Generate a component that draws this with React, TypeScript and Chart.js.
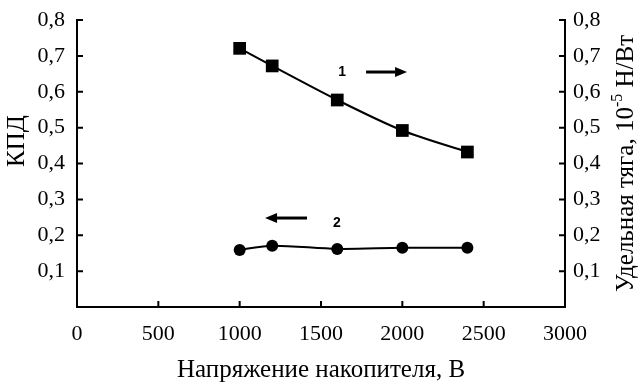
import React, { useEffect, useRef } from "react";
import { Chart, registerables } from "chart.js";

Chart.register(...registerables);

const voltages = [1000, 1200, 1600, 2000, 2400];
const thrust = [0.721, 0.672, 0.577, 0.492, 0.432];
const efficiency = [0.159, 0.171, 0.162, 0.165, 0.165];
const xTicks = [0, 500, 1000, 1500, 2000, 2500, 3000];
const yTicks = [0.1, 0.2, 0.3, 0.4, 0.5, 0.6, 0.7, 0.8];
// annotations: label, label x/y, arrow from x -> to x at y (data coords)
const annotLabels = ["1", "2"];
const annotLabelX = [1630, 1598];
const annotLabelY = [0.655, 0.234];
const arrowFromX = [1777, 1414];
const arrowToX = [2029, 1156];
const arrowY = [0.655, 0.248];

const SERIF = "'Liberation Serif', 'Times New Roman', serif";

const fmt = (v: number) => v.toFixed(1).replace(".", ",");

const decorPlugin = {
  id: "decor",
  afterDraw(chart: any) {
    const ctx = chart.ctx;
    const x = chart.scales.x;
    const y = chart.scales.y;
    const yR = chart.scales.yR;
    const ca = chart.chartArea;
    ctx.save();
    ctx.strokeStyle = "#000";
    ctx.lineWidth = 2;
    const tl = 6;
    ctx.beginPath();
    xTicks.forEach((t) => {
      if (t === 0 || t === 3000) return;
      const px = x.getPixelForValue(t);
      ctx.moveTo(px, ca.bottom);
      ctx.lineTo(px, ca.bottom - tl);
    });
    yTicks.forEach((t) => {
      const py = y.getPixelForValue(t);
      ctx.moveTo(ca.left, py);
      ctx.lineTo(ca.left + tl, py);
      const pr = yR.getPixelForValue(t);
      ctx.moveTo(ca.right, pr);
      ctx.lineTo(ca.right - tl, pr);
    });
    ctx.stroke();

    // annotations
    ctx.fillStyle = "#000";
    ctx.font = "bold 14px 'Liberation Sans', Arial, sans-serif";
    ctx.textAlign = "center";
    ctx.textBaseline = "middle";
    annotLabels.forEach((lab, i) => {
      ctx.fillText(lab, x.getPixelForValue(annotLabelX[i]), y.getPixelForValue(annotLabelY[i]));
      const x0 = x.getPixelForValue(arrowFromX[i]);
      const x1 = x.getPixelForValue(arrowToX[i]);
      const py = y.getPixelForValue(arrowY[i]);
      const dir = Math.sign(x1 - x0);
      const headLen = 12;
      ctx.lineWidth = 3;
      ctx.beginPath();
      ctx.moveTo(x0, py);
      ctx.lineTo(x1 - dir * headLen, py);
      ctx.stroke();
      ctx.beginPath();
      ctx.moveTo(x1, py);
      ctx.lineTo(x1 - dir * headLen, py - 5);
      ctx.lineTo(x1 - dir * headLen, py + 5);
      ctx.closePath();
      ctx.fill();
    });

    // y titles (both read bottom to top)
    ctx.font = `25px ${SERIF}`;
    ctx.textBaseline = "middle";
    ctx.save();
    ctx.translate(17, 141);
    ctx.rotate(-Math.PI / 2);
    ctx.textAlign = "center";
    ctx.fillText("КПД", 0, 0);
    ctx.restore();

    const partA = "Удельная тяга, 10";
    const partB = "-5";
    const partC = " Н/Вт";
    const fMain = `25px ${SERIF}`;
    const fSup = `16px ${SERIF}`;
    ctx.font = fMain;
    const wA = ctx.measureText(partA).width;
    const wC = ctx.measureText(partC).width;
    ctx.font = fSup;
    const wB = ctx.measureText(partB).width;
    const total = wA + wB + wC;
    ctx.save();
    ctx.translate(626, (ca.top + ca.bottom) / 2);
    ctx.rotate(-Math.PI / 2);
    ctx.textAlign = "left";
    let cx = -total / 2;
    ctx.font = fMain;
    ctx.fillText(partA, cx, 0);
    cx += wA;
    ctx.font = fSup;
    ctx.fillText(partB, cx, -8);
    cx += wB;
    ctx.font = fMain;
    ctx.fillText(partC, cx, 0);
    ctx.restore();
    ctx.restore();
  },
};

export default function App() {
  const ref = useRef<HTMLCanvasElement>(null);
  useEffect(() => {
    document.body.style.margin = "0";
    const chart = new Chart(ref.current!, {
      type: "line",
      data: {
        datasets: [
          {
            label: "1",
            data: voltages.map((v, i) => ({ x: v, y: thrust[i] })),
            yAxisID: "yR",
            borderColor: "#000",
            backgroundColor: "#000",
            borderWidth: 2,
            pointStyle: "rect",
            pointRadius: 9,
            pointBorderWidth: 0,
            tension: 0.3,
          },
          {
            label: "2",
            data: voltages.map((v, i) => ({ x: v, y: efficiency[i] })),
            yAxisID: "y",
            borderColor: "#000",
            backgroundColor: "#000",
            borderWidth: 2,
            pointStyle: "circle",
            pointRadius: 6,
            pointBorderWidth: 0,
            tension: 0.3,
          },
        ],
      },
      options: {
        responsive: false,
        animation: false,
        layout: { padding: { top: 20, left: 0, right: 0, bottom: 0 } },
        plugins: { legend: { display: false }, tooltip: { enabled: false } },
        scales: {
          x: {
            type: "linear",
            min: 0,
            max: 3000,
            afterBuildTicks: (s: any) => {
              s.ticks = xTicks.map((v) => ({ value: v }));
            },
            afterFit: (s: any) => {
              s.height = 76;
              s.paddingLeft = 0;
              s.paddingRight = 0;
            },
            grid: { display: false, drawTicks: false },
            border: { display: true, color: "#000", width: 2 },
            ticks: {
              color: "#000",
              font: { family: SERIF, size: 22 },
              padding: 14,
              maxRotation: 0,
              callback: (v: any) => String(v),
            },
            title: {
              display: true,
              text: "Напряжение накопителя, В",
              color: "#000",
              font: { family: SERIF, size: 25, lineHeight: 1.0 },
              padding: { top: 0, bottom: 0 },
            },
          },
          y: {
            position: "left",
            min: 0,
            max: 0.8,
            afterBuildTicks: (s: any) => {
              s.ticks = yTicks.map((v) => ({ value: v }));
            },
            afterFit: (s: any) => {
              s.width = 77;
              s.paddingTop = 0;
              s.paddingBottom = 0;
            },
            grid: { display: false, drawTicks: false },
            border: { display: true, color: "#000", width: 2 },
            ticks: {
              color: "#000",
              font: { family: SERIF, size: 22 },
              padding: 12,
              callback: (v: any) => fmt(Number(v)),
            },
          },
          yR: {
            position: "right",
            min: 0,
            max: 0.8,
            afterBuildTicks: (s: any) => {
              s.ticks = yTicks.map((v) => ({ value: v }));
            },
            afterFit: (s: any) => {
              s.width = 73;
              s.paddingTop = 0;
              s.paddingBottom = 0;
            },
            grid: { display: false, drawTicks: false },
            border: { display: true, color: "#000", width: 2 },
            ticks: {
              color: "#000",
              font: { family: SERIF, size: 22 },
              padding: 8,
              callback: (v: any) => fmt(Number(v)),
            },
          },
        },
      },
      plugins: [decorPlugin],
    } as any);
    return () => chart.destroy();
  }, []);
  return (
    <div style={{ width: 638, height: 383, background: "#fff" }}>
      <canvas ref={ref} width={638} height={383} />
    </div>
  );
}
